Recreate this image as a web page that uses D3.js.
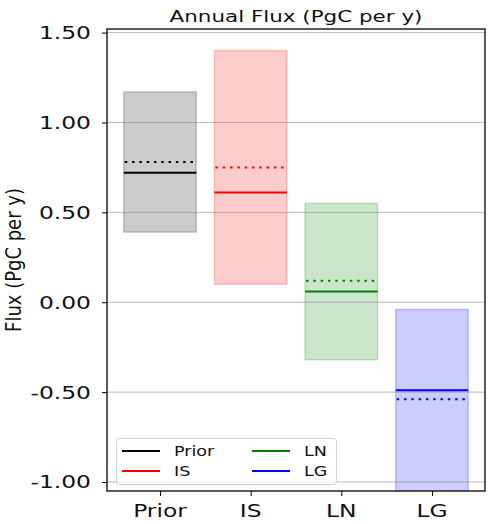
<!DOCTYPE html>
<html>
<head>
<meta charset="utf-8">
<script src="https://cdn.jsdelivr.net/npm/d3@7/dist/d3.min.js"></script>
<style>
  html, body { margin: 0; padding: 0; background: #ffffff; }
  svg { display: block; font-family: 'DejaVu Sans', sans-serif; }
</style>
</head>
<body>
<div id="chart"></div>
<script>
// chart values
const categories = ['Prior', 'IS', 'LN', 'LG']
const rangeHigh = [1.17, 1.40, 0.55, -0.04]
const rangeLow = [0.39, 0.10, -0.32, -1.20]
const solidValues = [0.72, 0.61, 0.06, -0.49]
const dottedValues = [0.78, 0.75, 0.12, -0.54]
const yTicks = [-1.0, -0.5, 0.0, 0.5, 1.0, 1.5]
const seriesColors = ['#000000', '#ff0000', '#008000', '#0000ff']

const W = 493, H = 524
const plot = { left: 107, right: 485, top: 29, bottom: 491 }
const SX = 1.3 // text in the reference is stretched sideways

const svg = d3.select('#chart').append('svg').attr('width', W).attr('height', H)

const x = d3.scaleLinear().domain([-0.585, 3.585]).range([plot.left, plot.right])
const y = d3.scaleLinear().domain([-1.05, 1.52]).range([plot.bottom, plot.top])
const halfW = 0.4
// plain hyphen for negatives, like the reference
const fmt = v => d3.format('.2f')(v).replace('\u2212', '-')

svg.append('clipPath').attr('id', 'plotclip')
  .append('rect')
  .attr('x', plot.left).attr('y', plot.top)
  .attr('width', plot.right - plot.left).attr('height', plot.bottom - plot.top)

const g = svg.append('g').attr('clip-path', 'url(#plotclip)')

// shaded ranges
categories.forEach((c, i) => {
  g.append('rect')
    .attr('x', x(i - halfW))
    .attr('width', x(i + halfW) - x(i - halfW))
    .attr('y', y(rangeHigh[i]))
    .attr('height', y(rangeLow[i]) - y(rangeHigh[i]))
    .attr('fill', seriesColors[i]).attr('fill-opacity', 0.2)
    .attr('stroke', seriesColors[i]).attr('stroke-opacity', 0.2).attr('stroke-width', 1.5)
})

// grid lines, drawn over the boxes like the reference
g.append('g').selectAll('line').data(yTicks).join('line')
  .attr('x1', plot.left).attr('x2', plot.right)
  .attr('y1', d => y(d)).attr('y2', d => y(d))
  .attr('stroke', '#808080').attr('stroke-opacity', 0.55).attr('stroke-width', 1)

// solid + dotted markers
categories.forEach((c, i) => {
  g.append('line')
    .attr('x1', x(i - halfW)).attr('x2', x(i + halfW))
    .attr('y1', y(solidValues[i])).attr('y2', y(solidValues[i]))
    .attr('stroke', seriesColors[i]).attr('stroke-width', 2)
  g.append('line')
    .attr('x1', x(i - halfW) + 1).attr('x2', x(i + halfW))
    .attr('y1', y(dottedValues[i])).attr('y2', y(dottedValues[i]))
    .attr('stroke', seriesColors[i]).attr('stroke-width', 2)
    .attr('stroke-dasharray', '2.5,4.8')
})

// frame
svg.append('rect')
  .attr('x', plot.left).attr('y', plot.top)
  .attr('width', plot.right - plot.left).attr('height', plot.bottom - plot.top)
  .attr('fill', 'none').attr('stroke', '#000').attr('stroke-width', 1.3)

// y axis ticks + labels
const yAxis = svg.append('g').attr('transform', `translate(${plot.left},0)`)
  .call(d3.axisLeft(y).tickValues(yTicks).tickSize(5).tickFormat(fmt))
yAxis.select('.domain').remove()
yAxis.selectAll('line').attr('stroke', '#000').attr('stroke-width', 1)
yAxis.selectAll('text').remove()
yTicks.forEach(v => {
  svg.append('g').attr('transform', `translate(91,${y(v)}) scale(${SX},1)`)
    .append('text')
    .attr('text-anchor', 'end').attr('dy', '0.36em')
    .attr('font-size', 18).attr('fill', '#111')
    .text(fmt(v))
})

// x axis ticks + labels
const xAxis = svg.append('g').attr('transform', `translate(0,${plot.bottom})`)
  .call(d3.axisBottom(x).tickValues(d3.range(categories.length)).tickSize(5).tickFormat(''))
xAxis.select('.domain').remove()
xAxis.selectAll('line').attr('stroke', '#000').attr('stroke-width', 1)
categories.forEach((c, i) => {
  svg.append('g').attr('transform', `translate(${x(i)},517) scale(${SX},1)`)
    .append('text')
    .attr('text-anchor', 'middle')
    .attr('font-size', 18).attr('fill', '#111')
    .text(c)
})

// title
svg.append('g').attr('transform', `translate(${(plot.left + plot.right) / 2},22) scale(${SX},1)`)
  .append('text')
  .attr('text-anchor', 'middle')
  .attr('font-size', 16.5).attr('fill', '#111')
  .text('Annual Flux (PgC per y)')

// y label, pushed in a little so it stays on the page
svg.append('g').attr('transform', `translate(21,${(plot.top + plot.bottom) / 2}) scale(1.15,1) rotate(-90)`)
  .append('text')
  .attr('text-anchor', 'middle')
  .attr('font-size', 18).attr('fill', '#111')
  .text('Flux (PgC per y)')

// legend
const legend = svg.append('g')
legend.append('rect')
  .attr('x', 116.5).attr('y', 438.5).attr('width', 220).attr('height', 46).attr('rx', 3)
  .attr('fill', '#fff').attr('fill-opacity', 0.8)
  .attr('stroke', '#d0d0d0').attr('stroke-width', 1)
categories.forEach((c, i) => {
  const col = Math.floor(i / 2), row = i % 2
  const lx = 122 + col * 130, ly = 451 + row * 20
  legend.append('line')
    .attr('x1', lx).attr('x2', lx + 38).attr('y1', ly).attr('y2', ly)
    .attr('stroke', seriesColors[i]).attr('stroke-width', 2)
  legend.append('g').attr('transform', `translate(${lx + 52},${ly}) scale(${SX},1)`)
    .append('text')
    .attr('dy', '0.36em')
    .attr('font-size', 13.5).attr('fill', '#111')
    .text(c)
})
</script>
</body>
</html>
